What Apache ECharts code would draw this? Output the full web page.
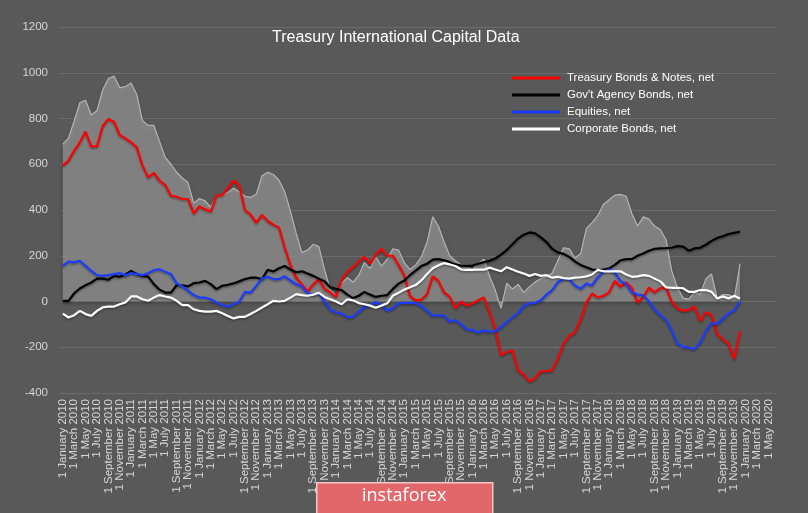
<!DOCTYPE html>
<html>
<head>
<meta charset="utf-8">
<script src="https://cdn.jsdelivr.net/npm/echarts@6/dist/echarts.min.js"></script>
<style>
html,body{margin:0;padding:0;background:#595959;}
#chart{width:808px;height:513px;}
</style>
</head>
<body>
<div id="chart"></div>
<script>
const monthNames = ['January','February','March','April','May','June','July','August','September','October','November','December'];
const categories = [];
for (let y = 2010; y <= 2020; y++) {
  for (let m = 0; m < 12; m++) {
    if (y === 2020 && m > 5) break;
    categories.push('1 ' + monthNames[m] + ' ' + y);
  }
}
const yTicks = [-400, -200, 0, 200, 400, 600, 800, 1000, 1200];

const totalNet = [688,715,790,870,880,815,835,925,975,985,
935,940,955,905,790,770,770,700,630,600,
565,540,520,430,450,440,412,460,465,478,
495,480,460,455,470,550,565,555,530,480,
395,300,215,225,250,240,140,50,25,80,
105,85,115,170,145,195,155,185,230,225,
170,140,160,195,260,370,330,260,200,178,
160,148,140,165,185,110,50,-30,80,55,
75,40,65,85,100,110,125,180,235,230,
190,210,320,345,375,425,445,465,468,460,
385,330,370,360,330,315,270,135,60,15,
10,40,30,100,120,15,30,30,15,165];

const treasury = [594,616,660,696,743,678,678,766,798,786,
728,713,696,674,594,543,562,528,509,462,
458,448,448,385,415,403,393,462,465,495,
528,510,400,380,345,378,352,336,323,235,
160,105,75,45,75,98,55,40,20,95,
130,150,175,195,165,205,230,200,200,160,
115,25,5,8,32,110,90,40,20,-30,
0,-18,-8,5,17,-45,-120,-235,-220,-215,
-300,-320,-350,-335,-305,-305,-300,-250,-185,-150,
-135,-80,-5,35,18,25,40,90,65,83,
60,-4,18,61,40,58,61,0,-30,-40,
-38,-22,-85,-48,-58,-143,-165,-185,-250,-130];

const agency = [3,3,36,57,71,83,100,100,95,112,
108,118,134,120,112,109,76,51,39,39,
71,71,66,80,83,90,76,54,69,73,
79,88,98,104,104,98,139,131,145,155,
140,128,132,122,112,100,88,62,55,50,
30,15,25,42,30,20,25,28,55,78,
92,115,135,155,165,183,185,180,172,162,
157,155,157,165,172,178,188,205,225,250,
275,292,302,298,280,260,230,215,208,195,
175,160,150,140,137,140,145,160,180,185,
185,200,210,222,230,232,233,235,242,240,
222,232,235,248,265,278,285,295,300,305];

const equities = [156,174,171,178,156,134,115,112,115,120,
124,115,124,120,115,124,137,141,130,120,
80,66,47,28,17,17,10,-4,-15,-23,
-12,-1,42,39,69,100,108,98,98,110,
92,76,66,36,30,35,0,-35,-48,-53,
-68,-68,-45,-25,-15,-3,-15,-40,-30,-8,
-6,-6,-7,-20,-40,-62,-60,-62,-88,-82,
-100,-122,-125,-136,-126,-132,-130,-112,-90,-70,
-50,-20,-8,-6,5,30,50,85,98,98,
70,55,78,70,105,130,140,126,90,76,
40,30,27,0,-35,-60,-80,-125,-185,-198,
-202,-208,-180,-130,-95,-98,-75,-52,-38,-2];

const corporate = [-53,-70,-60,-41,-55,-63,-41,-26,-22,-22,
-12,-4,22,22,10,3,17,28,22,17,
3,-16,-16,-34,-41,-44,-44,-41,-51,-63,
-74,-67,-67,-55,-41,-26,-12,3,0,3,
17,32,28,25,30,38,20,10,0,-12,
10,5,-7,-12,-18,-27,-18,-8,25,38,
52,62,72,92,120,145,158,168,162,155,
140,138,138,140,139,148,140,132,150,140,
130,122,112,120,112,115,104,108,102,100,
104,106,110,118,138,132,132,132,132,118,
108,110,115,112,100,88,62,60,60,58,
42,42,50,50,42,13,22,13,25,12];

const seriesNames = ['Treasury Bonds & Notes, net', "Gov't Agency Bonds, net", 'Equities, net', 'Corporate Bonds, net'];
const seriesColors = ['#ff0000', '#000000', '#1a3cff', '#ffffff'];
const seriesData = [treasury, agency, equities, corporate];

const FONT = 'Liberation Sans, Arial, sans-serif';
const chart = echarts.init(document.getElementById('chart'), null, {renderer: 'canvas'});

const lineSeries = seriesNames.map((n, k) => ({
  name: n,
  type: 'line',
  data: seriesData[k],
  symbol: 'none',
  smooth: false,
  z: 3 + k,
  lineStyle: {color: seriesColors[k], width: 2.2, shadowColor: 'rgba(0,0,0,0.35)', shadowBlur: 2, shadowOffsetY: 1.5},
  itemStyle: {color: seriesColors[k]}
}));

chart.setOption({
  backgroundColor: '#595959',
  animation: false,
  title: {
    text: 'Treasury International Capital Data',
    left: 267, top: 25,
    textStyle: {color: '#ffffff', fontSize: 16, fontWeight: 'normal', fontFamily: FONT}
  },
  legend: {
    orient: 'vertical',
    left: 507, top: 66,
    data: seriesNames.map((n, k) => ({name: n, icon: 'rect', itemStyle: {color: seriesColors[k]}})),
    itemWidth: 48, itemHeight: 3, itemGap: 3,
    textStyle: {color: '#ffffff', fontSize: 11.5, fontFamily: FONT, lineHeight: 14, padding: [0, 0, 0, 2]}
  },
  grid: {left: 60, right: 31, top: 27, bottom: 120},
  xAxis: {
    type: 'category',
    data: categories,
    boundaryGap: true,
    axisLine: {show: true, onZero: false, lineStyle: {color: '#6c6c6c'}},
    axisTick: {show: false},
    axisLabel: {
      interval: 0,
      hideOverlap: false,
      formatter: function (value, index) { return index % 2 === 0 ? value : ''; },
      rotate: 90, color: '#d6d6d6', fontSize: 11.5, fontFamily: FONT, margin: 6
    },
    splitLine: {show: false}
  },
  yAxis: {
    type: 'value',
    min: yTicks[0], max: yTicks[yTicks.length - 1], interval: 200,
    axisLine: {show: false},
    axisTick: {show: false},
    axisLabel: {color: '#d6d6d6', fontSize: 11.5, fontFamily: FONT, margin: 12, formatter: function (v) { return String(v); }},
    splitLine: {lineStyle: {color: '#6c6c6c', width: 1}}
  },
  series: [{
    name: 'Total',
    type: 'line',
    data: totalNet,
    symbol: 'none',
    z: 2,
    lineStyle: {color: '#b4b4b4', width: 1.2},
    areaStyle: {
      color: '#9a9a9a',
      shadowColor: 'rgba(0,0,0,0.35)', shadowBlur: 4, shadowOffsetY: 2
    }
  }].concat(lineSeries),
  graphic: [
    {type: 'rect', left: 316, top: 482, shape: {width: 176, height: 40},
     style: {fill: '#e2676b', stroke: '#f0c8c8', lineWidth: 1.5}, z: 100},
    {type: 'text', left: 362, top: 487,
     style: {text: 'instaforex', fill: '#ffffff', font: '18px "Open Sans", sans-serif'}, z: 101}
  ]
});
</script>
</body>
</html>
